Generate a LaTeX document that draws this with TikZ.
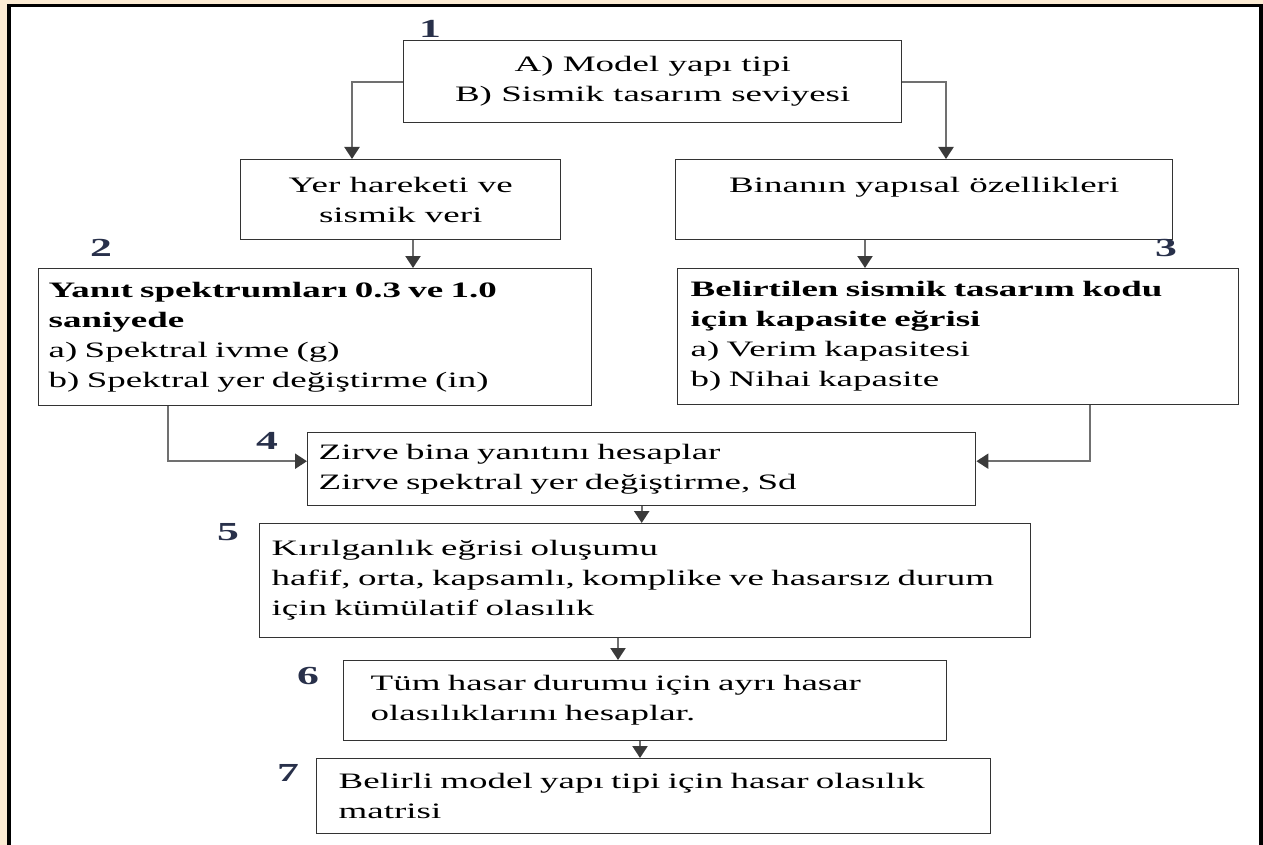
\documentclass[tikz,border=0pt]{standalone}
\usepackage{fontspec}
\setmainfont{Liberation Serif}[FakeStretch=1.68]
\usetikzlibrary{arrows.meta}
\definecolor{cream}{HTML}{FCEBD3}
\definecolor{boxline}{HTML}{333333}
\definecolor{wire}{HTML}{707070}
\definecolor{tip}{HTML}{3A3A3A}
\definecolor{stepnum}{HTML}{28304A}
\begin{document}
\begin{tikzpicture}[x=1pt,y=-1pt,
  box/.style={draw=boxline, line width=1.4pt, fill=white, anchor=north west,
    inner ysep=0pt, font=\fontsize{22}{30}\selectfont},
  lbox/.style={box, align=left},
  cbox/.style={box, align=center},
  conn/.style={draw=wire, line width=2.2pt,
    -{Triangle[length=12pt,width=15pt,color=tip]}},
  num/.style={text=stepnum, font=\fontsize{26}{26}\selectfont\bfseries, inner sep=0pt}]
\useasboundingbox (0,0) rectangle (1263,845);
% page frame
\fill[cream] (0,0) rectangle (1263,845);
\fill[white] (9,5) rectangle (1261,845);
\draw[black, line width=3.5pt] (9,845) -- (9,5.5) -- (1261,5.5) -- (1261,845);

% boxes
\node[cbox, minimum width=498, minimum height=82] (b1) at (403,40)
  {A) Model yapı tipi\\B) Sismik tasarım seviyesi};
\node[cbox, minimum width=320, minimum height=80] (yer) at (240,159)
  {Yer hareketi ve\\sismik veri};
\node[cbox, minimum width=497, minimum height=80] (bin) at (675,159)
  {Binanın yapısal özellikleri\\~};
\node[lbox, minimum height=137, inner xsep=10, text width=533] (b2) at (38,268)
  {\textbf{Yanıt spektrumları 0.3 ve 1.0}\\\textbf{saniyede}\\a) Spektral ivme (g)\\b) Spektral yer değiştirme (in)};
\node[lbox, minimum height=136, inner xsep=13, text width=535] (b3) at (677,268)
  {\textbf{Belirtilen sismik tasarım kodu}\\\textbf{için kapasite eğrisi}\\a) Verim kapasitesi\\b) Nihai kapasite};
\node[lbox, minimum height=73, inner xsep=11, text width=646] (b4) at (307,432)
  {Zirve bina yanıtını hesaplar\\Zirve spektral yer değiştirme, Sd};
\node[lbox, minimum height=114, inner xsep=12, text width=747] (b5) at (259,523)
  {Kırılganlık eğrisi oluşumu\\hafif, orta, kapsamlı, komplike ve hasarsız durum\\için kümülatif olasılık};
\node[lbox, minimum height=80, inner xsep=27, text width=549] (b6) at (343,660)
  {Tüm hasar durumu için ayrı hasar\\olasılıklarını hesaplar.};
\node[lbox, minimum height=75, inner xsep=22, text width=630] (b7) at (316,758)
  {Belirli model yapı tipi için hasar olasılık\\matrisi};

% step numbers
\node[num] (n1) at (430,29) {1};
\node[num] (n2) at (101,248) {2};
\node[num] (n3) at (1166,248) {3};
\node[num] (n4) at (267,441) {4};
\node[num] (n5) at (228,532) {5};
\node[num] (n6) at (308,676) {6};
\node[num] (n7) at (288,773) {7};

% connectors
\draw[conn] (b1.west) -| ([xshift=112pt]yer.north west);
\draw[conn] (b1.east) -| ([xshift=271pt]bin.north west);
\draw[conn] ([xshift=173pt]yer.south west) coordinate (p1) -- (p1 |- b2.north);
\draw[conn] ([xshift=190pt]bin.south west) coordinate (p2) -- (p2 |- b3.north);
\draw[conn] ([xshift=130pt]b2.south west) |- ([yshift=8pt]b4.west);
\draw[conn] ([xshift=413pt]b3.south west) |- ([yshift=8pt]b4.east);
\draw[conn] (b4.south) -- (b4.south |- b5.north);
\draw[conn] ([xshift=359pt]b5.south west) coordinate (p3) -- (p3 |- b6.north);
\draw[conn] ([xshift=297pt]b6.south west) coordinate (p4) -- (p4 |- b7.north);
\end{tikzpicture}
\end{document}
